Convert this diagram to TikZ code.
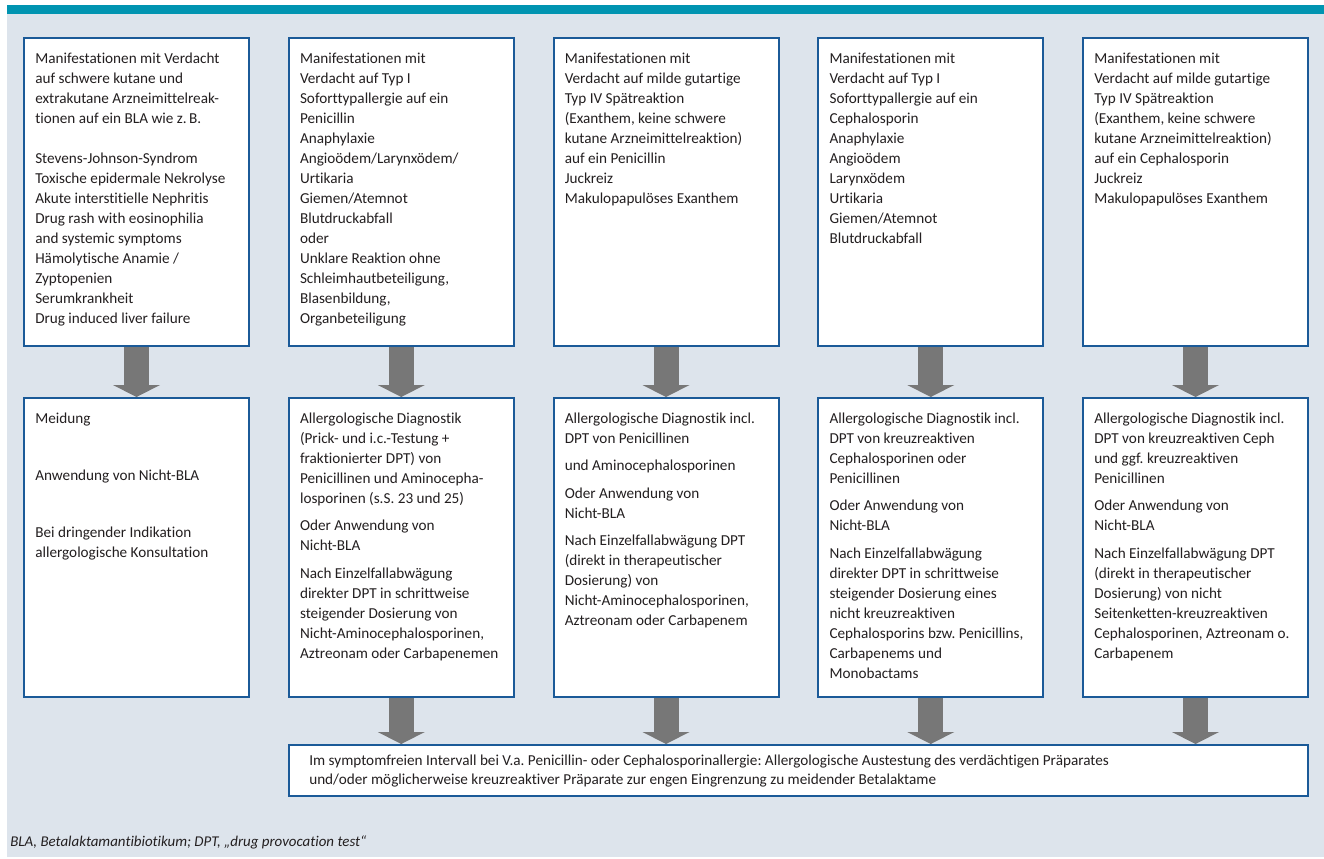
\documentclass[tikz,border=0pt]{standalone}
\usepackage{fontspec}
\setmainfont{Carlito}[Ligatures=NoCommon]
\usetikzlibrary{arrows.meta}
\frenchspacing

\definecolor{hintergrund}{RGB}{221,228,236}
\definecolor{balken}{RGB}{0,148,177}
\definecolor{rahmen}{RGB}{27,90,152}
\definecolor{pfeil}{RGB}{119,119,119}
\definecolor{schrift}{RGB}{35,31,32}

\tikzset{
	kasten/.style={draw=rahmen, line width=1.5pt, fill=white, anchor=north west, inner sep=0pt, outer sep=0pt, minimum width=168.75pt},
	oben/.style={kasten, minimum height=231pt},
	unten/.style={kasten, minimum height=224.25pt},
	textblock/.style={anchor=north west, align=left, inner sep=0pt, text=schrift, font=\fontsize{11.4pt}{15pt}\selectfont},
	blockpfeil/.style={draw=pfeil, line width=18.75pt, shorten <=0.75pt, shorten >=0.75pt, -{Triangle[width=35.25pt, length=9pt, line width=0pt]}}
}

\begin{document}
\begin{tikzpicture}[x=0.75pt, y=-0.75pt]
		\useasboundingbox (0,0) rectangle (1324,858);
		\fill[hintergrund] (7,14) rectangle (1324,857);
		\fill[balken] (7,4.5) rectangle (1324,14);
		
		% obere Reihe
		\node[oben] (m1) at (24,38) {};
		\node[oben] (m2) at (288.75,38) {};
		\node[oben] (m3) at (553.5,38) {};
		\node[oben] (m4) at (818.25,38) {};
		\node[oben] (m5) at (1083,38) {};
		
		% untere Reihe
		\node[unten] (d1) at (24,398) {};
		\node[unten] (d2) at (288.75,398) {};
		\node[unten] (d3) at (553.5,398) {};
		\node[unten] (d4) at (818.25,398) {};
		\node[unten] (d5) at (1083,398) {};
		
		\node[kasten, minimum width=764.25pt, minimum height=38.25pt] (intervall) at (288.75,745) {};
		
		\node[textblock] (m1text) at (35,49) {\strut Manifestationen mit Verdacht\\
		auf schwere kutane und\\
		extrakutane Arzneimittelreak-\\
		tionen auf ein BLA wie z.\,B.\\[15pt]
		Stevens-Johnson-Syndrom\\
		Toxische epidermale Nekrolyse\\
		Akute interstitielle Nephritis\\
		Drug rash with eosinophilia\\
		and systemic symptoms\\
		Hämolytische Anamie /\\
		Zyptopenien\\
		Serumkrankheit\\
		Drug induced liver failure};
		\node[textblock] (m2text) at (299.75,49) {\strut Manifestationen mit\\
		Verdacht auf Typ I\\
		Soforttypallergie auf ein\\
		Penicillin\\
		Anaphylaxie\\
		Angioödem/Larynxödem/\\
		Urtikaria\\
		Giemen/Atemnot\\
		Blutdruckabfall\\
		oder\\
		Unklare Reaktion ohne\\
		Schleimhautbeteiligung,\\
		Blasenbildung,\\
		Organbeteiligung};
		\node[textblock] (m3text) at (564.5,49) {\strut Manifestationen mit\\
		Verdacht auf milde gutartige\\
		Typ IV Spätreaktion\\
		(Exanthem, keine schwere\\
		kutane Arzneimittelreaktion)\\
		auf ein Penicillin\\
		Juckreiz\\
		Makulopapulöses Exanthem};
		\node[textblock] (m4text) at (829.25,49) {\strut Manifestationen mit\\
		Verdacht auf Typ I\\
		Soforttypallergie auf ein\\
		Cephalosporin\\
		Anaphylaxie\\
		Angioödem\\
		Larynxödem\\
		Urtikaria\\
		Giemen/Atemnot\\
		Blutdruckabfall};
		\node[textblock] (m5text) at (1094,49) {\strut Manifestationen mit\\
		Verdacht auf milde gutartige\\
		Typ IV Spätreaktion\\
		(Exanthem, keine schwere\\
		kutane Arzneimittelreaktion)\\
		auf ein Cephalosporin\\
		Juckreiz\\
		Makulopapulöses Exanthem};
		
		\node[textblock] (d1text) at (35,409) {\strut Meidung\\[27.75pt]
		Anwendung von Nicht-BLA\\[27.75pt]
		Bei dringender Indikation\\
		allergologische Konsultation};
		\node[textblock] (d2text) at (299.75,409) {\strut Allergologische Diagnostik\\
		(Prick- und i.c.-Testung +\\
		fraktionierter DPT) von\\
		Penicillinen und Aminocepha-\\
		losporinen (s.S. 23 und 25)\\[5.6pt]
		Oder Anwendung von\\
		Nicht-BLA\\[5.6pt]
		Nach Einzelfallabwägung\\
		direkter DPT in schrittweise\\
		steigender Dosierung von\\
		Nicht-Aminocephalosporinen,\\
		Aztreonam oder Carbapenemen};
		\node[textblock] (d3text) at (564.5,409) {\strut Allergologische Diagnostik incl.\\
		DPT von Penicillinen\\[5.6pt]
		und Aminocephalosporinen\\[5.6pt]
		Oder Anwendung von\\
		Nicht-BLA\\[5.6pt]
		Nach Einzelfallabwägung DPT\\
		(direkt in therapeutischer\\
		Dosierung) von\\
		Nicht-Aminocephalosporinen,\\
		Aztreonam oder Carbapenem};
		\node[textblock] (d4text) at (829.25,409) {\strut Allergologische Diagnostik incl.\\
		DPT von kreuzreaktiven\\
		Cephalosporinen oder\\
		Penicillinen\\[5.6pt]
		Oder Anwendung von\\
		Nicht-BLA\\[5.6pt]
		Nach Einzelfallabwägung\\
		direkter DPT in schrittweise\\
		steigender Dosierung eines\\
		nicht kreuzreaktiven\\
		Cephalosporins bzw. Penicillins,\\
		Carbapenems und\\
		Monobactams};
		\node[textblock] (d5text) at (1094,409) {\strut Allergologische Diagnostik incl.\\
		DPT von kreuzreaktiven Ceph\\
		und ggf. kreuzreaktiven\\
		Penicillinen\\[5.6pt]
		Oder Anwendung von\\
		Nicht-BLA\\[5.6pt]
		Nach Einzelfallabwägung DPT\\
		(direkt in therapeutischer\\
		Dosierung) von nicht\\
		Seitenketten-kreuzreaktiven\\
		Cephalosporinen, Aztreonam o.\\
		Carbapenem};
		
		\node[textblock, font=\fontsize{11.4pt}{14.25pt}\selectfont] (intervalltext) at (309,752) {\strut Im symptomfreien Intervall bei V.a. Penicillin- oder Cephalosporinallergie: Allergologische Austestung des verdächtigen Präparates\\
		und/oder möglicherweise kreuzreaktiver Präparate zur engen Eingrenzung zu meidender Betalaktame};
		
		\draw[blockpfeil] (m1.south) -- (d1.north);
		\draw[blockpfeil] (m2.south) -- (d2.north);
		\draw[blockpfeil] (m3.south) -- (d3.north);
		\draw[blockpfeil] (m4.south) -- (d4.north);
		\draw[blockpfeil] (m5.south) -- (d5.north);
		
		\draw[blockpfeil] (d2.south) -- (d2.south |- intervall.north);
		\draw[blockpfeil] (d3.south) -- (d3.south |- intervall.north);
		\draw[blockpfeil] (d4.south) -- (d4.south |- intervall.north);
		\draw[blockpfeil] (d5.south) -- (d5.south |- intervall.north);
		
		\node[anchor=base west, inner sep=0pt, text=schrift, font=\fontsize{11.2pt}{12pt}\selectfont\itshape] (fussnote) at (10,846) {BLA, Betalaktamantibiotikum; DPT, „drug provocation test“};
	\end{tikzpicture}
\end{document}
